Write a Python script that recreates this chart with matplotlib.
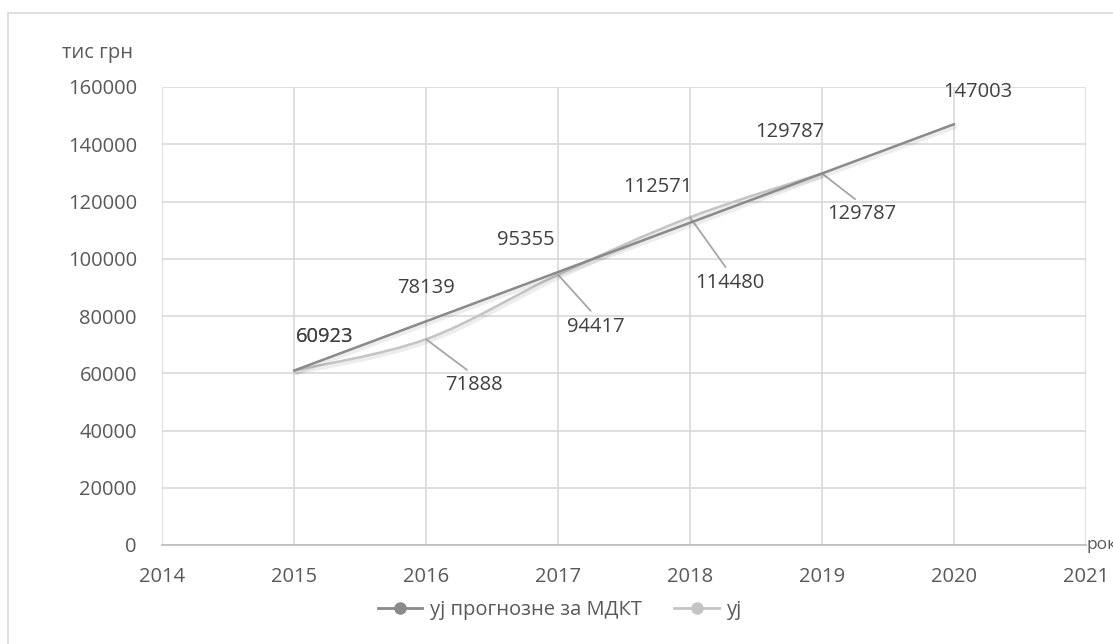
import matplotlib
matplotlib.use("Agg")
import matplotlib.pyplot as plt
import matplotlib.patheffects as pe
from matplotlib.path import Path
from matplotlib.patches import PathPatch, Rectangle
from matplotlib.lines import Line2D
import numpy as np

plt.rcParams['font.family'] = ['Open Sans', 'DejaVu Sans']

years_forecast = [2015, 2016, 2017, 2018, 2019, 2020]
forecast = [60923, 78139, 95355, 112571, 129787, 147003]
years_actual = [2015, 2016, 2017, 2018, 2019]
actual = [60923, 71888, 94417, 114480, 129787]

forecast_name = "yj прогнозне за МДКТ"
actual_name = "yj"
y_title = "тис грн"
x_title = "роки"

TEXT = "#595959"
DARK = "#8a8a8a"
LIGHT = "#c4c4c4"
GRID = "#d9d9d9"
FS = 14.5

# label offsets in pixels (dx, dy), screen y down
forecast_offsets = [(31, -34), (0, -33), (-32, -32), (-32, -36), (-32, -41), (24, -32)]
actual_offsets = [(31, -34), (48, 46), (38, 52), (40, 66), (40, 41)]


def smooth_path(xs, ys):
    # excel-like smoothed line: catmull-rom turned into cubic beziers
    p = np.column_stack([xs, ys]).astype(float)
    ext = np.vstack([p[0], p, p[-1]])
    verts = [p[0]]
    codes = [Path.MOVETO]
    for i in range(len(p) - 1):
        p0, p1, p2, p3 = ext[i], ext[i + 1], ext[i + 2], ext[i + 3]
        verts += [p1 + (p2 - p0) / 6, p2 - (p3 - p1) / 6, p2]
        codes += [Path.CURVE4] * 3
    return Path(verts, codes)


fig = plt.figure(figsize=(11.13, 6.44), dpi=100)
fig.patches.append(Rectangle((8 / 1113, -0.1), 1.2, 1 - 13 / 644 + 0.1,
                             transform=fig.transFigure, fill=False,
                             edgecolor=GRID, linewidth=1.2))
ax = fig.add_axes([162 / 1113, 1 - 545 / 644, 924 / 1113, 458 / 644])

ax.set_xlim(2014, 2021)
ax.set_ylim(0, 160000)
ax.set_xticks(range(2014, 2022))
ax.set_yticks(range(0, 160001, 20000))
ax.grid(True, color=GRID, linewidth=1.2)
ax.set_axisbelow(True)
for s in ["top", "right", "left"]:
    ax.spines[s].set_visible(False)
ax.spines["bottom"].set_color("#bfbfbf")
ax.spines["bottom"].set_linewidth(1.3)
ax.tick_params(length=0, colors=TEXT, labelsize=FS)
ax.tick_params(axis="y", pad=18)
ax.tick_params(axis="x", pad=16)

shadow = [pe.SimpleLineShadow(offset=(1, -1.8), shadow_color="k", alpha=0.07, linewidth=3),
          pe.Normal()]

ax.plot(years_forecast, forecast, color=DARK, linewidth=1.8, path_effects=shadow,
        solid_capstyle="round", zorder=4)
ax.add_patch(PathPatch(smooth_path(years_actual, actual), facecolor="none",
                       edgecolor=LIGHT, linewidth=1.8, path_effects=shadow, zorder=3))

for x, y, (dx, dy) in zip(years_forecast, forecast, forecast_offsets):
    ax.annotate(f"{y}", (x, y), xytext=(dx, -dy), textcoords="offset pixels",
                ha="center", va="center", fontsize=FS, color="#404040")

for i, (x, y, (dx, dy)) in enumerate(zip(years_actual, actual, actual_offsets)):
    arrow = None if i == 0 else dict(arrowstyle="-", color="#a6a6a6", lw=1.3,
                                    relpos=(0.5, 1.0), shrinkA=3, shrinkB=0)
    ax.annotate(f"{y}", (x, y), xytext=(dx, -dy), textcoords="offset pixels",
                ha="center", va="center", fontsize=FS, color="#404040",
                arrowprops=arrow)

fig.text(98 / 1113, 1 - 53 / 644, y_title, ha="center", va="center",
         fontsize=FS, color=TEXT)
fig.text(1086 / 1113, 1 - 545 / 644, x_title, ha="left", va="center",
         fontsize=FS - 2, color=TEXT)

handles = [Line2D([], [], color=DARK, linewidth=2, marker="o", markersize=8),
           Line2D([], [], color=LIGHT, linewidth=2, marker="o", markersize=8)]
fig.legend(handles, [forecast_name, actual_name], loc="center",
           bbox_to_anchor=(560 / 1113, 1 - 610 / 644), ncol=2, frameon=False,
           fontsize=FS, labelcolor=TEXT, handlelength=2.2, handletextpad=0.4,
           columnspacing=1.6)

fig.savefig("out.png", dpi=100)
